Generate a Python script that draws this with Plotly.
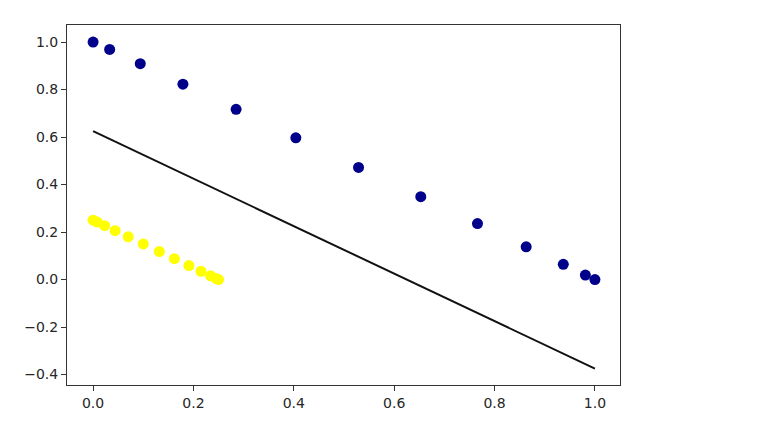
import plotly.graph_objects as go

# Data
blue_x = [0.0, 0.033, 0.094, 0.179, 0.285, 0.404, 0.529, 0.653, 0.766, 0.863, 0.937, 0.981, 1.0]
blue_y = [1.0, 0.969, 0.909, 0.823, 0.717, 0.597, 0.472, 0.349, 0.236, 0.138, 0.064, 0.019, 0.0]
yellow_x = [0.0, 0.008, 0.023, 0.044, 0.070, 0.100, 0.132, 0.162, 0.191, 0.215, 0.234, 0.245, 0.25]
yellow_y = [0.25, 0.242, 0.227, 0.206, 0.180, 0.150, 0.118, 0.088, 0.059, 0.035, 0.016, 0.005, 0.0]
line_x = [0.0, 1.0]
line_y = [0.625, -0.375]

x_ticks = [0.0, 0.2, 0.4, 0.6, 0.8, 1.0]
y_ticks = [-0.4, -0.2, 0.0, 0.2, 0.4, 0.6, 0.8, 1.0]

fig = go.Figure()
fig.add_trace(go.Scatter(x=blue_x, y=blue_y, mode="markers",
                         marker=dict(color="#00008b", size=11, line=dict(width=0))))
fig.add_trace(go.Scatter(x=yellow_x, y=yellow_y, mode="markers",
                         marker=dict(color="#ffff00", size=11, line=dict(width=0))))
fig.add_trace(go.Scatter(x=line_x, y=line_y, mode="lines",
                         line=dict(color="#111111", width=2)))

axis_common = dict(showgrid=False, zeroline=False, showline=True, mirror=True,
                   linecolor="#333333", linewidth=1, ticks="outside", ticklen=5,
                   tickwidth=1, tickcolor="#333333",
                   tickfont=dict(family="DejaVu Sans", size=14, color="#262626"))

fig.update_layout(
    width=768, height=434,
    margin=dict(l=59, r=156, t=17, b=57),
    paper_bgcolor="white", plot_bgcolor="white",
    showlegend=False,
    xaxis=dict(range=[-0.052, 1.05], tickvals=x_ticks,
               ticktext=[f"{v:.1f}" for v in x_ticks], **axis_common),
    yaxis=dict(range=[-0.444, 1.072], tickvals=y_ticks,
               ticktext=[f"{v:.1f}".replace("-", "\u2212") for v in y_ticks], **axis_common),
)

fig.write_html("out.html")
